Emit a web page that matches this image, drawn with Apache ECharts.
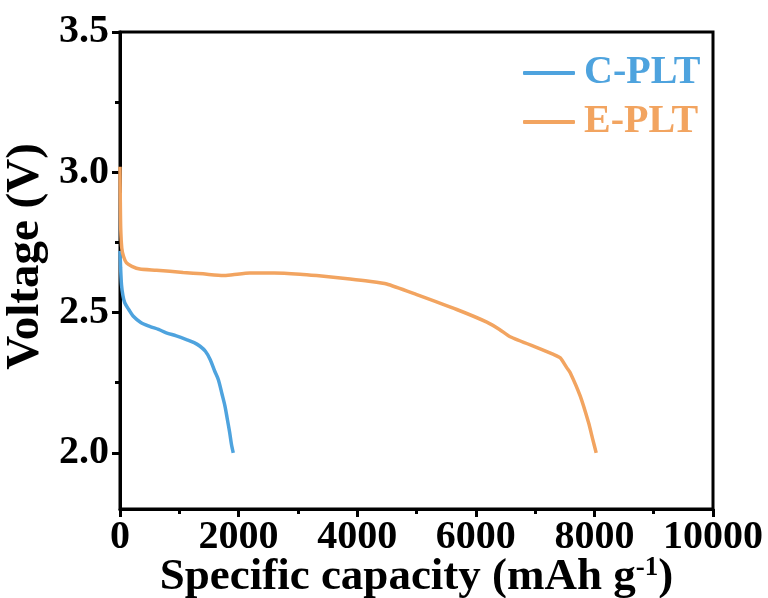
<!DOCTYPE html>
<html>
<head>
<meta charset="utf-8">
<script src="https://cdn.jsdelivr.net/npm/echarts@6/dist/echarts.min.js"></script>
<style>
    html, body { margin: 0; padding: 0; background: #fff; }
    #main { width: 768px; height: 598px; }
</style>
</head>
<body>
<div id="main"></div>
<script>
    // C-PLT discharge curve
    var cCap = [0, 10, 25, 50, 80, 150, 220, 350, 500, 650, 780, 950, 1120, 1250, 1350, 1440, 1520, 1600, 1660, 1720, 1770, 1810, 1850, 1880, 1910];
    var cVolt = [2.72, 2.66, 2.60, 2.56, 2.535, 2.51, 2.488, 2.465, 2.451, 2.44, 2.428, 2.417, 2.404, 2.393, 2.38, 2.362, 2.333, 2.29, 2.26, 2.21, 2.167, 2.12, 2.072, 2.03, 2.0];

    // E-PLT discharge curve
    var eCap = [0, 5, 12, 30, 60, 110, 200, 334, 616, 1065, 1400, 1740, 1900, 2190, 2600, 3035, 3316, 3878, 4200, 4498, 5004, 5679, 6186, 6400, 6579, 7085, 7310, 7423, 7536, 7592, 7760, 7901, 7970, 8030];
    var eVolt = [3.02, 2.90, 2.80, 2.73, 2.70, 2.677, 2.665, 2.655, 2.651, 2.643, 2.638, 2.632, 2.635, 2.641, 2.641, 2.637, 2.632, 2.620, 2.612, 2.602, 2.564, 2.511, 2.466, 2.44, 2.414, 2.371, 2.351, 2.339, 2.303, 2.286, 2.203, 2.108, 2.05, 2.0];

    var yMajor = [2.0, 2.5, 3.0, 3.5];
    var yMinor = [2.25, 2.75, 3.25];

    function zip(xs, ys) {
        return xs.map(function (x, i) { return [x, ys[i]]; });
    }

    var font = 'Liberation Serif';
    var blue = '#4ea3de';
    var orange = '#f2a460';

    var chart = echarts.init(document.getElementById('main'));
    var option = {
        backgroundColor: '#fff',
        animation: false,
        grid: {
            left: 120, right: 55, top: 32, bottom: 89,
            outerBoundsMode: 'none',
            show: true, borderColor: '#000', borderWidth: 3
        },
        legend: {
            orient: 'vertical',
            left: 518, top: 48,
            icon: 'roundRect',
            itemWidth: 52, itemHeight: 4, itemGap: 9,
            textStyle: { fontFamily: font, fontWeight: 'bold', fontSize: 40, padding: [0, 0, 0, 4] },
            data: [
                { name: 'C-PLT', textStyle: { color: blue } },
                { name: 'E-PLT', textStyle: { color: orange } }
            ]
        },
        xAxis: {
            type: 'value',
            min: 0, max: 10000, interval: 2000,
            name: 'Specific capacity (mAh g{sup|-1})',
            nameLocation: 'middle',
            nameMoveOverlap: false,
            nameGap: 46,
            nameTextStyle: {
                fontFamily: font, fontWeight: 'bold', fontSize: 45, color: '#000',
                rich: { sup: { fontFamily: font, fontWeight: 'bold', fontSize: 27, verticalAlign: 'top', padding: [0, 0, 17, 0] } }
            },
            axisLine: { lineStyle: { color: '#000', width: 3 } },
            axisTick: { length: 8, lineStyle: { color: '#000', width: 3 } },
            minorTick: { show: true, splitNumber: 2, length: 5, lineStyle: { color: '#000', width: 3 } },
            axisLabel: {
                fontFamily: font, fontWeight: 'bold', fontSize: 40, color: '#000', margin: 9,
                formatter: function (v) { return String(v); }
            },
            splitLine: { show: false }
        },
        yAxis: [
            {
                type: 'value',
                min: 1.8, max: 3.5,
                name: 'Voltage (V)',
                nameLocation: 'middle',
                nameMoveOverlap: false,
                nameGap: 71,
                nameTextStyle: {
                    fontFamily: font, fontWeight: 'bold', fontSize: 47, color: '#000',
                    padding: [0, 0, 0, 28]
                },
                axisLine: { lineStyle: { color: '#000', width: 3 } },
                axisTick: { customValues: yMajor, length: 8, lineStyle: { color: '#000', width: 3 } },
                axisLabel: {
                    customValues: yMajor,
                    fontFamily: font, fontWeight: 'bold', fontSize: 40, color: '#000', margin: 11,
                    formatter: function (v) { return v.toFixed(1); }
                },
                splitLine: { show: false }
            },
            {
                type: 'value',
                position: 'left',
                min: 1.8, max: 3.5,
                axisLine: { show: false },
                axisTick: { customValues: yMinor, length: 5, lineStyle: { color: '#000', width: 3 } },
                axisLabel: { show: false },
                splitLine: { show: false }
            }
        ],
        series: [
            {
                name: 'C-PLT',
                type: 'line',
                symbol: 'none',
                smooth: 0.3,
                lineStyle: { color: blue, width: 3.5 },
                itemStyle: { color: blue },
                data: zip(cCap, cVolt)
            },
            {
                name: 'E-PLT',
                type: 'line',
                symbol: 'none',
                smooth: 0.2,
                lineStyle: { color: orange, width: 3.5 },
                itemStyle: { color: orange },
                data: zip(eCap, eVolt)
            }
        ]
    };
    chart.setOption(option);
</script>
</body>
</html>
